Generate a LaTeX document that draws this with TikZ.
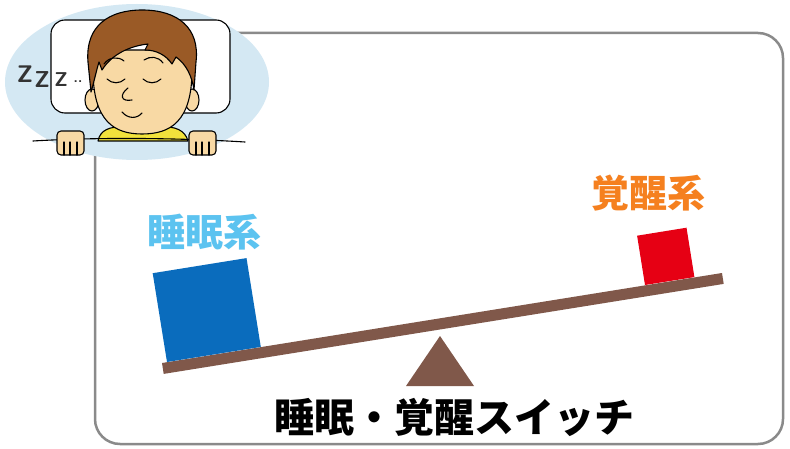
\documentclass[tikz,border=0pt]{standalone}
\usepackage{fontspec}
\newfontfamily\jp{Noto Sans CJK JP}
\definecolor{bgblue}{HTML}{D4E8F3}
\definecolor{skin}{HTML}{F8D9A4}
\definecolor{hair}{HTML}{9A5A26}
\definecolor{shirt}{HTML}{F2E23C}
\definecolor{framegray}{HTML}{8A8A8A}
\definecolor{beam}{HTML}{80584A}
\definecolor{sleepblue}{HTML}{0A6CBD}
\definecolor{wakered}{HTML}{E60014}
\definecolor{sleeptext}{HTML}{5CC3F0}
\definecolor{waketext}{HTML}{F5801F}
\tikzset{
  ink/.style={draw=black, line width=1.1pt, line join=round, line cap=round},
  label/.style={font=\jp\bfseries\fontsize{38}{38}\selectfont, inner sep=0pt},
  snore/.style={inner sep=0pt, text=black!80},
}
\begin{document}
\begin{tikzpicture}[x=1pt,y=-1pt]
\useasboundingbox (0,0) rectangle (790,449);
\fill[white] (0,0) rectangle (790,449);

% outer frame
\draw[framegray, line width=2.5pt, rounded corners=25] (95,33) rectangle (783,444);

% sleeping boy: background blob
\fill[bgblue] (137,82) ellipse [x radius=132, y radius=78];
% pillow
\draw[ink, fill=white, rounded corners=14] (51,20) rectangle (230,113);
% shirt
\filldraw[ink, fill=shirt] (98,141) .. controls (100,130) and (110,126) .. (125,127) -- (160,127) .. controls (175,126) and (185,130) .. (188,141) -- cycle;
% ears
\filldraw[ink, fill=skin] (92,100) ellipse [x radius=7, y radius=11];
\filldraw[ink, fill=skin] (192,100) ellipse [x radius=7, y radius=11];
% face
\filldraw[ink, fill=skin] (93,70) .. controls (93,122) and (115,134) .. (142,134) .. controls (170,134) and (192,122) .. (192,70) -- (192,50) -- (93,50) -- cycle;
% hair
\filldraw[ink, fill=hair] (91,92) -- (88,62) .. controls (85,25) and (110,10) .. (142,10) .. controls (178,10) and (200,28) .. (196,62) -- (194,90)
  .. controls (192,76) and (186,64) .. (176,57) -- (172,64) .. controls (166,55) and (156,50) .. (145,50)
  -- (148,44) .. controls (130,46) and (112,54) .. (102,70) -- (99,62) .. controls (96,72) and (94,82) .. (91,92) -- cycle;
% eyebrows
\draw[ink] (104,64) .. controls (109,57) and (118,56) .. (124,61);
\draw[ink] (144,60) .. controls (150,56) and (158,56) .. (163,63);
% closed eyes
\draw[ink] (107,79) .. controls (112,84) and (120,84) .. (125,79);
\draw[ink] (143,79) .. controls (148,84) and (156,84) .. (161,79);
% nose
\draw[ink] (128,88) .. controls (119,95) and (121,102) .. (132,100);
% mouth
\draw[ink] (122,112) .. controls (128,119) and (137,119) .. (142,113);
% blanket edge
\draw[ink] (33,141) .. controls (100,137) and (180,138) .. (245,142);
% hands
\filldraw[ink, fill=skin, rounded corners=4] (57,131) rectangle (84,155);
\draw[ink] (64,142) -- (64,155) (70,142) -- (70,155) (77,142) -- (77,155);
\filldraw[ink, fill=skin, rounded corners=4] (189,131) rectangle (216,155);
\draw[ink] (196,142) -- (196,155) (202,142) -- (202,155) (209,142) -- (209,155);
% snoring
\node[snore, font=\sffamily\bfseries\fontsize{24}{24}\selectfont] (z1) at (25,74) {Z};
\node[snore, font=\sffamily\bfseries\fontsize{23}{23}\selectfont] (z2) at (42,80) {Z};
\node[snore, font=\sffamily\bfseries\fontsize{20}{20}\selectfont] (z3) at (61,80) {Z};
\node[snore, font=\sffamily\bfseries\fontsize{14}{14}\selectfont] (z4) at (78,82) {..};

% seesaw
\fill[beam] (162,363) -- (722,273) -- (723.7,283.9) -- (163.7,373.9) -- cycle;
\fill[beam] (440,336) -- (474,386) -- (406,386) -- cycle;
\fill[sleepblue] (167,362) -- (260.8,346.9) -- (246.5,258.1) -- (152.7,273.2) -- cycle;
\fill[wakered] (645,285) -- (694.4,277.1) -- (686.5,227.7) -- (637.1,235.7) -- cycle;

% labels
\node[label, text=sleeptext] (sleep) at (204,232) {睡眠系};
\node[label, text=waketext] (wake) at (648,193) {覚醒系};
\node[label, font=\jp\bfseries\fontsize{40}{40}\selectfont] (title) at (454,417) {睡眠・覚醒スイッチ};
\end{tikzpicture}
\end{document}
